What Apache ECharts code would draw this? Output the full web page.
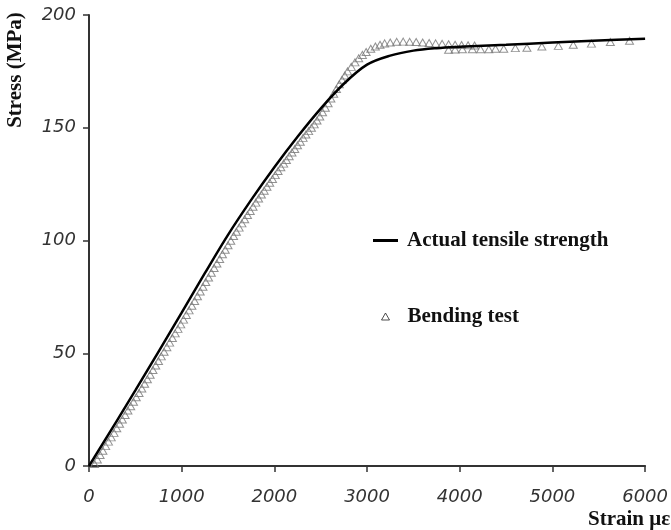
<!DOCTYPE html>
<html>
<head>
<meta charset="utf-8">
<script src="https://cdn.jsdelivr.net/npm/echarts@6/dist/echarts.min.js"></script>
<style>html,body{margin:0;padding:0;background:#fff}#c{width:671px;height:530px}</style>
</head>
<body>
<div id="c"></div>
<script>
// Actual tensile strength (strain in microstrain, stress in MPa)
var tensileStrain = [0, 500, 1000, 1250, 1500, 1750, 2000, 2250, 2500, 2750, 3000, 3250, 3500, 3750, 4000, 4500, 5000, 5500, 6000];
var tensileStress = [0, 33.5, 68, 85.5, 102.5, 118, 132.5, 146, 158.5, 169.5, 178, 182, 184.2, 185.3, 185.9, 186.8, 187.8, 188.7, 189.5];

// Bending test (strain in microstrain, stress in MPa)
var bendStrain = [60, 90, 120, 150, 180, 210, 240, 270, 300, 330, 360, 390, 420, 450, 480, 510, 540, 570, 600, 630,
  660, 690, 720, 750, 780, 810, 840, 870, 900, 930, 960, 990, 1020, 1050, 1080, 1110, 1140, 1170, 1200, 1230,
  1260, 1290, 1320, 1350, 1380, 1410, 1440, 1470, 1500, 1530, 1560, 1590, 1620, 1650, 1680, 1710, 1740, 1770, 1800, 1830,
  1860, 1890, 1920, 1950, 1980, 2010, 2040, 2070, 2100, 2130, 2160, 2190, 2220, 2250, 2280, 2310, 2340, 2370, 2400, 2430,
  2460, 2490, 2520, 2550, 2580, 2610, 2640, 2670, 2700, 2730, 2760, 2790, 2830, 2870, 2910, 2950, 2990,
  3040, 3090, 3140, 3190, 3250, 3320, 3390, 3460, 3530, 3600, 3670, 3740, 3810, 3880, 3950, 4020, 4090, 4160,
  3880, 3950, 4029, 4136, 4225, 4314, 4386, 4475, 4600, 4725, 4886, 5064, 5225, 5421, 5625, 5832];
var bendStress = [0.9, 2.9, 4.9, 6.8, 8.8, 10.8, 12.7, 14.7, 16.7, 18.7, 20.6, 22.6, 24.6, 26.5, 28.5, 30.5, 32.4, 34.4, 36.5, 38.5,
  40.5, 42.6, 44.6, 46.6, 48.6, 50.7, 52.7, 54.7, 56.8, 58.8, 60.8, 62.8, 64.9, 67.0, 69.0, 71.1, 73.2, 75.3, 77.4, 79.5,
  81.6, 83.6, 85.7, 87.8, 89.8, 91.8, 93.9, 95.9, 97.9, 99.9, 102.0, 103.9, 105.7, 107.6, 109.4, 111.3, 113.1, 115.0, 116.8, 118.6,
  120.4, 122.1, 123.8, 125.6, 127.3, 129.0, 130.8, 132.5, 134.1, 135.7, 137.4, 139.0, 140.6, 142.2, 143.8, 145.5, 147.0, 148.5, 150.0, 151.5,
  153.2, 155.0, 156.9, 158.9, 160.9, 163.0, 165.1, 167.2, 169.3, 171.3, 173.2, 175.0, 177.0, 179.0, 180.8, 182.3, 183.6,
  185.0, 186.0, 186.8, 187.4, 187.8, 188.1, 188.2, 188.1, 188.0, 187.8, 187.6, 187.4, 187.2, 187.0, 186.8, 186.7, 186.6, 186.5,
  184.6, 184.7, 184.8, 184.8, 184.8, 184.8, 185.0, 185.0, 185.3, 185.5, 186.0, 186.3, 186.8, 187.3, 188.0, 188.6];

var xTicks = [0, 1000, 2000, 3000, 4000, 5000, 6000];
var yTicks = [0, 50, 100, 150, 200];

var tensileData = tensileStrain.map(function (s, i) { return [s, tensileStress[i]]; });
var bendData = bendStrain.map(function (s, i) { return [s, bendStress[i]]; });

var chart = echarts.init(document.getElementById('c'), null, { renderer: 'canvas' });
var labelStyle = { fontFamily: 'DejaVu Sans', fontStyle: 'italic', fontSize: 18, color: '#333',
  formatter: function (v) { return String(v); } };
var serifBold = { fontFamily: 'Liberation Serif', fontWeight: 'bold', fontSize: 21, fill: '#111' };
var legendText = { fontFamily: 'Liberation Serif', fontWeight: 'bold', fontSize: 21, color: '#111' };

chart.setOption({
  animation: false,
  backgroundColor: '#fff',
  grid: { left: 89, right: 22, top: 15, bottom: 64, containLabel: false },
  xAxis: {
    type: 'value', min: xTicks[0], max: xTicks[xTicks.length - 1], interval: 1000,
    axisLine: { show: true, lineStyle: { color: '#333', width: 2 } },
    axisTick: { show: true, inside: false, length: 6, lineStyle: { color: '#333', width: 1.5 } },
    axisLabel: Object.assign({ margin: 22 }, labelStyle),
    splitLine: { show: false }
  },
  yAxis: {
    type: 'value', min: yTicks[0], max: yTicks[yTicks.length - 1], interval: 50,
    axisLine: { show: true, lineStyle: { color: '#333', width: 2 } },
    axisTick: { show: true, inside: false, length: 6, lineStyle: { color: '#333', width: 1.5 } },
    axisLabel: Object.assign({ margin: 13 }, labelStyle),
    splitLine: { show: false }
  },
  legend: [
    {
      orient: 'vertical', left: 368, top: 225, itemWidth: 25, itemHeight: 3,
      textStyle: Object.assign({ padding: [0, 0, 0, 4] }, legendText),
      data: [{ name: 'Actual tensile strength', icon: 'rect', itemStyle: { color: '#000' } }]
    },
    {
      orient: 'vertical', left: 376, top: 301, itemWidth: 8, itemHeight: 7,
      textStyle: Object.assign({ padding: [0, 0, 0, 13] }, legendText),
      data: [{ name: 'Bending test', icon: 'triangle', itemStyle: { color: '#fff', borderColor: '#222', borderWidth: 1 } }]
    }
  ],
  series: [
    {
      name: 'Bending test', type: 'scatter', data: bendData, symbol: 'triangle', symbolSize: [8, 7],
      itemStyle: { color: 'rgba(255,255,255,0)', borderColor: '#777', borderWidth: 1 }, z: 2
    },
    {
      name: 'Actual tensile strength', type: 'line', data: tensileData, smooth: 0.35, showSymbol: false, symbol: 'none',
      lineStyle: { color: '#000', width: 2.5 }, itemStyle: { color: '#000' }, z: 3
    }
  ],
  graphic: [
    { type: 'text', x: 16, y: 70, rotation: Math.PI / 2,
      style: Object.assign({ text: 'Stress (MPa)', textAlign: 'center', textVerticalAlign: 'middle' }, serifBold) },
    { type: 'text', x: 588, y: 520,
      style: Object.assign({ text: 'Strain με', textAlign: 'left', textVerticalAlign: 'middle' }, serifBold) }
  ]
});
</script>
</body>
</html>
